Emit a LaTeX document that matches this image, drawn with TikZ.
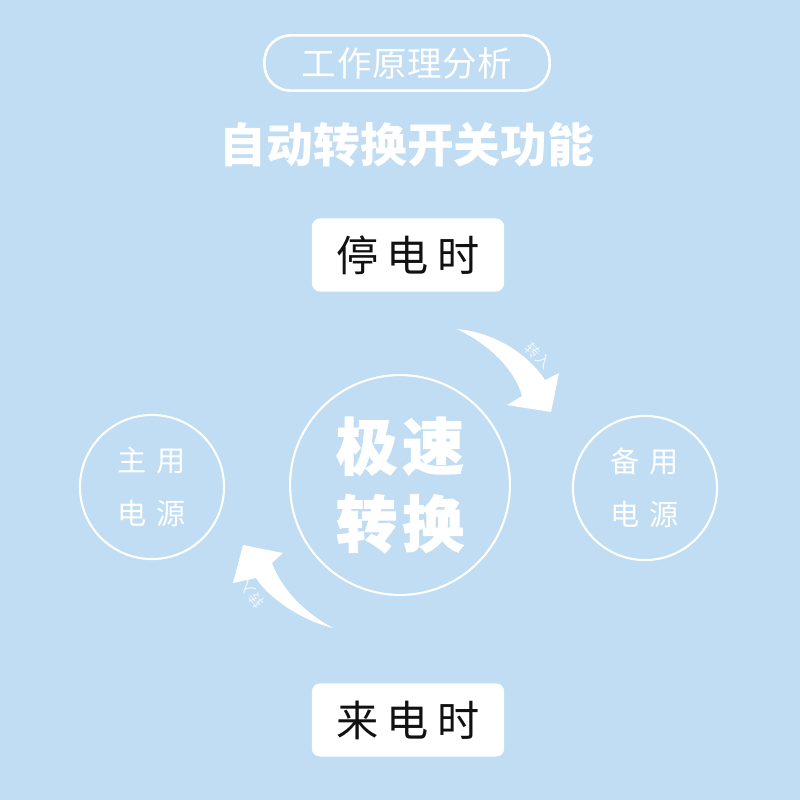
\documentclass[tikz,border=0pt]{standalone}
\usepackage{fontspec}
\setmainfont{Noto Sans CJK SC}
\newfontfamily\heavyfont[BoldFeatures={FakeBold=1.5}]{Noto Sans CJK SC}
\usepackage{tikz}
\usetikzlibrary{positioning, calc}

\definecolor{bgblue}{RGB}{192,221,243}
\definecolor{inkblack}{RGB}{17,17,17}

\begin{document}
\begin{tikzpicture}[
	x=0.01cm, y=-0.01cm,
	% Style for Nodes
	pill/.style={
		draw=white,
		line width=0.75pt,
		rounded corners=0.26cm,
		minimum width=2.85cm,
		minimum height=0.53cm,
		text=white,
		font={\fontsize{9.8}{12}\selectfont\addfontfeature{LetterSpace=2}}
	},
	headline/.style={text=white, font={\fontsize{13.3}{16}\selectfont\bfseries}},
	statebox/.style={
		rectangle,
		fill=white,
		rounded corners=0.08cm,
		minimum width=1.92cm,
		minimum height=0.73cm,
		text=inkblack,
		font={\fontsize{12}{14}\selectfont\addfontfeature{LetterSpace=19}}
	},
	% Circle Styles
	hub/.style={
		circle,
		draw=white,
		line width=0.6pt,
		minimum size=2.14cm,
		align=center,
		text=white,
		font={\heavyfont\fontsize{17.5}{22}\selectfont\bfseries\addfontfeature{LetterSpace=8}}
	},
	source/.style={
		circle,
		draw=white,
		line width=0.6pt,
		minimum size=1.44cm,
		align=center,
		text=white,
		font={\fontsize{8.3}{15}\selectfont\addfontfeature{LetterSpace=34}}
	},
	% Arrow Styles
	swing/.style={fill=white},
	tag/.style={text=white, opacity=0.75, inner sep=0pt, font={\fontsize{4.2}{5}\selectfont}}
	]
	
	% --- BACKGROUND ---
	\fill[bgblue] (0,0) rectangle (800,800);
	\useasboundingbox (0,0) rectangle (800,800);
	
	% --- HEADER ---
	\node[pill] (Pill) at (407,63) {工作原理分析};
	\node[headline] (Title) at (407,145) {自动转换开关功能};
	
	% --- STATE BOXES ---
	\node[statebox] (Stop) at (408,255) {停电时};
	\node[statebox] (Come) at (408,720) {来电时};
	
	% --- CIRCLES ---
	\node[hub] (Hub) at (400,485) {极速\\转换};
	\node[source] (Main) at (152,487) {主用\\电源};
	\node[source] (Backup) at (645,488) {备用\\电源};
	
	% --- CURVED ARROWS ---
	
	% Upper arrow (towards backup)
	\fill[swing] (457,329) .. controls (490,332) and (525,350) .. (545,380)
		-- (559,373) -- (551,412) -- (507,405) -- (522,396)
		.. controls (515,370) and (490,345) .. cycle;
	\node[tag, rotate=-45] (TagUp) at (538,356) {转入};
	
	% Lower arrow (towards main)
	\fill[swing] (333,628) .. controls (305,613) and (282,590) .. (272,563)
		-- (283,553) -- (243,545) -- (233,583) -- (256,578)
		.. controls (268,597) and (300,620) .. cycle;
	\node[tag, rotate=128] (TagDown) at (252,594) {转入};
	
\end{tikzpicture}
\end{document}
